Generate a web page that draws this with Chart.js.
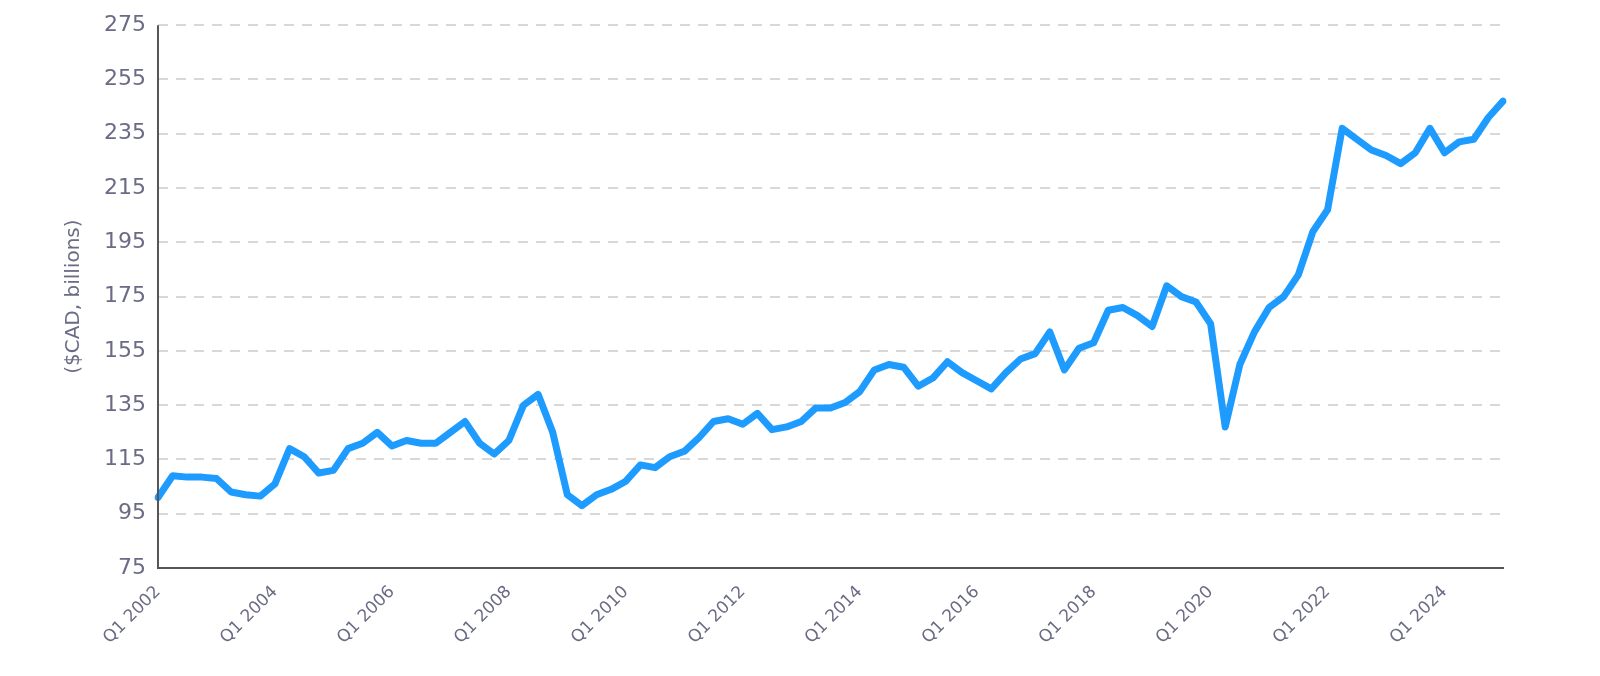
<!DOCTYPE html>
<html><head><meta charset="utf-8">
<script src="https://cdn.jsdelivr.net/npm/chart.js@4"></script>
<style>html,body{margin:0;padding:0;background:#fff}#w{width:1600px;height:676px}</style>
</head><body><div id="w"><canvas id="c"></canvas></div>
<script>
const years = [2002,2003,2004,2005,2006,2007,2008,2009,2010,2011,2012,2013,2014,2015,2016,2017,2018,2019,2020,2021,2022,2023,2024,2025];
const values = [
101,109,108.5,108.5,
108,103,102,101.5,
106,119,116,110,
111,119,121,125,
120,122,121,121,
125,129,121,117,
122,135,139,125,
102,98,102,104,
107,113,112,116,
118,123,129,130,
128,132,126,127,
129,134,134,136,
140,148,150,149,
142,145,151,147,
144,141,147,152,
154,162,148,156,
158,170,171,168,
164,179,175,173,
165,127,150,162,
171,175,183,199,
207,237,233,229,
227,224,228,237,
228,232,233,241,
247];
const yTicks = [75,95,115,135,155,175,195,215,235,255,275];
const labels = [];
for (const y of years) for (let q=1;q<=4;q++) if (labels.length<values.length) labels.push('Q'+q+' '+y);
new Chart(document.getElementById('c'), {
  type:'line',
  data:{labels, datasets:[{data:values,borderColor:'#1e9bff',borderWidth:7,pointRadius:0,tension:0,fill:false,borderJoinStyle:'round',borderCapStyle:'round'}]},
  options:{responsive:true,maintainAspectRatio:false,animation:false,
    layout:{padding:{left:58,right:97,top:22,bottom:14}},
    plugins:{legend:{display:false},tooltip:{enabled:false}},
    scales:{
      x:{offset:false,grid:{display:false,drawTicks:false},border:{color:'#555',width:2},
        ticks:{autoSkip:false,maxRotation:45,minRotation:45,color:'#6b6b85',font:{family:'DejaVu Sans',size:17},padding:14,
          callback:(v,i)=>{const l=labels[i];return (l.startsWith('Q1')&&(parseInt(l.slice(3))%2===0))?l:'';}}},
      y:{min:75,max:275,afterBuildTicks:a=>{a.ticks=yTicks.map(v=>({value:v}));},
        grid:{color:'#d8d8d8',lineWidth:2,drawTicks:false},border:{display:false,dash:[10,8]},
        ticks:{color:'#6b6b85',font:{family:'DejaVu Sans',size:22},padding:12},
        title:{display:true,text:'($CAD, billions)',color:'#6b6b85',font:{family:'DejaVu Sans',size:20},padding:{bottom:6}}}
    }},
  plugins:[{id:'yline',afterDraw(ch){const a=ch.chartArea,c=ch.ctx;c.save();c.strokeStyle='#555';c.lineWidth=2;c.beginPath();c.moveTo(a.left,a.top);c.lineTo(a.left,a.bottom);c.stroke();c.restore();}}]
});
</script></body></html>
